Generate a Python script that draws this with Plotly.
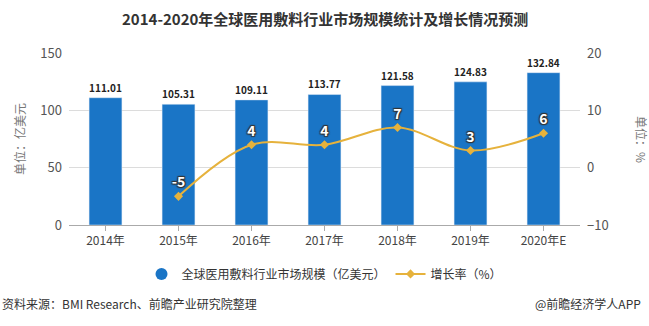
import plotly.graph_objects as go

years = ["2014年", "2015年", "2016年", "2017年", "2018年", "2019年", "2020年E"]
market = [111.01, 105.31, 109.11, 113.77, 121.58, 124.83, 132.84]
growth_years = ["2015年", "2016年", "2017年", "2018年", "2019年", "2020年E"]
growth = [-5, 4, 4, 7, 3, 6]

FONT = "Noto Sans CJK SC"
BAR = "#1a75c6"
LINE = "#e6b23c"

fig = go.Figure()
fig.add_trace(go.Bar(
    x=years, y=market, width=0.45, marker_color=BAR,
    text=[f"{v:.2f}" for v in market], textposition="outside",
    textfont=dict(family=FONT, size=13, color="#222", weight="bold"),
    cliponaxis=False, showlegend=False, name="全球医用敷料行业市场规模（亿美元）",
))
fig.add_trace(go.Scatter(
    x=[None], y=[None], mode="markers",
    marker=dict(symbol="circle", size=12, color=BAR),
    name="全球医用敷料行业市场规模（亿美元）",
))
fig.add_trace(go.Scatter(
    x=growth_years, y=growth, yaxis="y2", mode="lines+markers+text",
    line=dict(color=LINE, width=2, shape="spline", smoothing=1.0),
    marker=dict(symbol="diamond", size=7, color=LINE),
    text=[str(v) for v in growth], textposition="top center",
    textfont=dict(family=FONT, size=14, color="white", weight="bold",
                  shadow="1px 1px 1px #333, -1px -1px 1px #333, 1px -1px 1px #333, -1px 1px 1px #333"),
    cliponaxis=False, name="增长率（%）",
))

fig.update_layout(
    width=649, height=326,
    margin=dict(l=69, r=69, t=53, b=101),
    paper_bgcolor="white", plot_bgcolor="white",
    font=dict(family=FONT, size=12, color="#444"),
    bargap=0.55,
    xaxis=dict(showline=True, linecolor="#aaa", ticks="outside", ticklen=5,
               tickcolor="#aaa", tickfont=dict(size=12, color="#444")),
    yaxis=dict(range=[0, 150], tickvals=[0, 50, 100, 150], showgrid=True,
               gridcolor="#dcdcdc", zeroline=False, ticks="", ticklabelstandoff=6,
               tickfont=dict(size=13, color="#555"),
               title=dict(text="单位：亿美元", font=dict(size=12, color="#777"), standoff=12)),
    yaxis2=dict(range=[-10, 20], tickvals=[-10, 0, 10, 20], overlaying="y", side="right",
                showgrid=False, zeroline=False, ticklabelstandoff=6,
                tickfont=dict(size=13, color="#555")),
    legend=dict(orientation="h", x=0.5, xanchor="center", y=-0.2, yanchor="top",
                font=dict(size=12, color="#333"), itemwidth=30),
    showlegend=True,
)

fig.add_annotation(text="单位：%", textangle=90, xref="paper", yref="paper",
                   x=1 + 62/511, y=0.5, showarrow=False, xanchor="center", yanchor="middle",
                   font=dict(size=12, color="#777"))
fig.add_annotation(text="<b>2014-2020年全球医用敷料行业市场规模统计及增长情况预测</b>",
                   xref="paper", yref="paper", x=0.5, y=1, yshift=35, showarrow=False,
                   font=dict(size=15, color="#333"), xanchor="center", yanchor="middle")
fig.add_annotation(text="资料来源：BMI Research、前瞻产业研究院整理", xref="paper", yref="paper",
                   x=-69/511, y=0, yshift=-78, xanchor="left", yanchor="middle", showarrow=False,
                   font=dict(size=12, color="#333"))
fig.add_annotation(text="@前瞻经济学人APP", xref="paper", yref="paper",
                   x=1 + 63/511, y=0, yshift=-78, xanchor="right", yanchor="middle", showarrow=False,
                   font=dict(size=12, color="#333"))

fig.write_html("out.html")
